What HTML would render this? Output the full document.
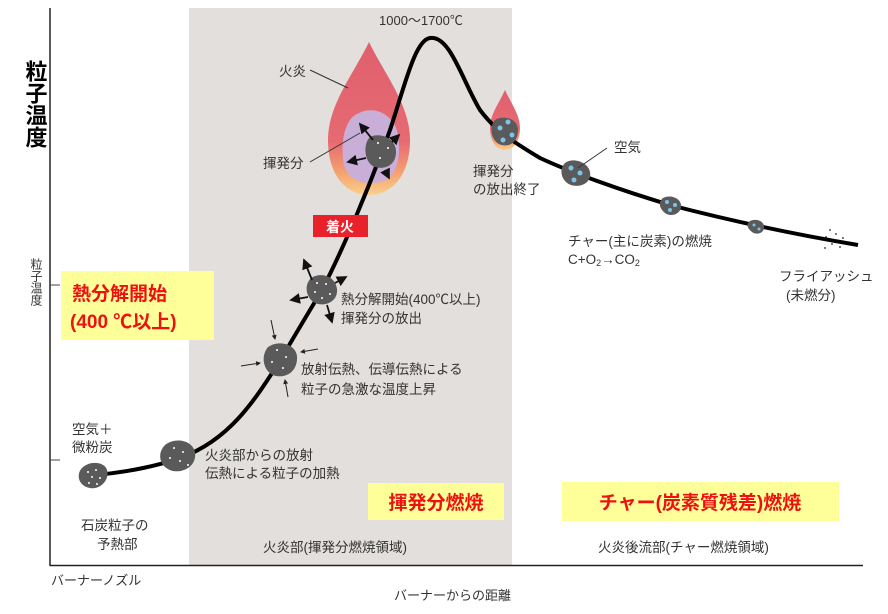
<!DOCTYPE html>
<html><head><meta charset="utf-8"><style>
body{margin:0;background:#fff;width:888px;height:609px;overflow:hidden}
svg text{font-family:"Liberation Sans","Noto Sans CJK JP",sans-serif}
</style></head><body>
<svg width="888" height="609" viewBox="0 0 888 609" xmlns="http://www.w3.org/2000/svg">
<defs>
<linearGradient id="fl" x1="0" y1="0" x2="0" y2="1">
<stop offset="0" stop-color="#e0606e"/><stop offset="0.65" stop-color="#e66a72"/><stop offset="0.85" stop-color="#f4a070"/><stop offset="1" stop-color="#fbd08a"/></linearGradient>
<marker id="ar" markerWidth="6" markerHeight="6" refX="5" refY="3" orient="auto"><path d="M0,0L6,3L0,6z" fill="#111"/></marker>
<marker id="as" markerWidth="5" markerHeight="5" refX="4" refY="2.5" orient="auto"><path d="M0,0L5,2.5L0,5z" fill="#222"/></marker>
</defs>
<rect x="189" y="8" width="323" height="557" fill="#e2dfdc"/>
<line x1="50" y1="8" x2="50" y2="566" stroke="#222" stroke-width="1.5"/>
<line x1="50" y1="565.5" x2="863" y2="565.5" stroke="#222" stroke-width="1.5"/>
<line x1="50" y1="285" x2="60" y2="285" stroke="#444"/>
<line x1="50" y1="460" x2="60" y2="460" stroke="#444"/>
<!-- flames -->
<path d="M369,42 C385,75 410,105 410,140 C410,175 392,195 369,195 C346,195 328,175 328,140 C328,105 353,75 369,42Z" fill="url(#fl)"/>
<path d="M359,113 C375,105 395,115 398,135 C402,160 395,180 380,182 C360,186 345,178 343,160 C341,140 345,118 359,113Z" fill="#c9aed8"/>
<path d="M505,90 C512,105 520,115 520,128 C520,142 513,150 505,150 C497,150 490,142 490,128 C490,115 498,105 505,90Z" fill="url(#fl)"/>
<!-- curve -->
<path d="M95,475 C130,472 160,465 180,458 C230,440 255,400 281,359 C295,335 310,310 322,290 C345,245 370,185 390,130 C405,85 415,40 430,38 C450,35 462,80 480,110 C495,130 510,140 540,158 C570,172 620,190 670,205 C720,218 780,232 858,245" fill="none" stroke="#000" stroke-width="4"/>
<!-- particles -->
<g fill="#5a5a5a">
<path d="M82,468 C90,460 105,462 107,470 C110,480 100,490 90,488 C78,486 76,474 82,468Z"/>
<path d="M165,445 C175,437 192,440 195,452 C197,465 185,473 173,471 C160,468 156,454 165,445Z"/>
<path d="M268,347 C278,340 295,343 297,356 C298,370 288,378 276,376 C265,374 259,358 268,347Z"/>
<path d="M311,278 C320,272 335,275 337,289 C338,300 328,306 318,304 C308,302 302,287 311,278Z"/>
<path d="M370,137 C380,132 396,138 396,152 C396,165 385,170 375,167 C365,164 362,145 370,137Z"/>
<path d="M495,120 C503,115 518,118 518,130 C518,142 510,147 502,145 C492,143 488,128 495,120Z"/>
<path d="M565,163 C573,157 588,162 590,172 C592,183 580,188 571,185 C562,182 558,170 565,163Z"/>
<path d="M663,198 C670,194 682,198 681,207 C680,215 670,217 665,213 C659,208 658,202 663,198Z"/>
<path d="M750,221 C756,218 765,221 764,228 C763,234 756,235 752,232 C747,228 746,224 750,221Z"/>
</g>
<g fill="#fff">
<circle cx="88" cy="472" r="1"/><circle cx="96" cy="470" r="1"/><circle cx="92" cy="477" r="1"/><circle cx="100" cy="478" r="1"/><circle cx="89" cy="483" r="1"/><circle cx="97" cy="484" r="1"/>
<circle cx="174" cy="448" r="1"/><circle cx="183" cy="452" r="1"/><circle cx="170" cy="458" r="1"/><circle cx="180" cy="461" r="1"/><circle cx="188" cy="465" r="1"/>
<circle cx="277" cy="350" r="1"/><circle cx="286" cy="357" r="1"/><circle cx="272" cy="362" r="1"/><circle cx="283" cy="368" r="1"/>
<circle cx="317" cy="283" r="1"/><circle cx="326" cy="284" r="1"/><circle cx="315" cy="292" r="1"/><circle cx="322" cy="298" r="1"/><circle cx="330" cy="294" r="1"/>
<circle cx="378" cy="143" r="1"/><circle cx="388" cy="148" r="1"/><circle cx="380" cy="158" r="1"/>
</g>
<g fill="#7cc4ec">
<circle cx="500" cy="128" r="2.5"/><circle cx="508" cy="122" r="2.5"/><circle cx="512" cy="135" r="2.5"/><circle cx="503" cy="140" r="2.5"/>
<circle cx="571" cy="168" r="2.5"/><circle cx="580" cy="173" r="2.5"/><circle cx="574" cy="180" r="2.5"/>
<circle cx="667" cy="202" r="2"/><circle cx="675" cy="205" r="2"/><circle cx="670" cy="210" r="2"/>
<circle cx="754" cy="225" r="1.5"/><circle cx="759" cy="229" r="1.5"/>
</g>
<!-- fly ash dots -->
<g fill="#222"><circle cx="830" cy="230" r="0.9"/><circle cx="836" cy="234" r="0.9"/><circle cx="826" cy="237" r="0.9"/><circle cx="843" cy="238" r="0.9"/><circle cx="832" cy="244" r="0.9"/><circle cx="825" cy="248" r="0.9"/><circle cx="840" cy="247" r="0.9"/></g>
<!-- arrows -->
<g stroke="#111" stroke-width="1.8" fill="none" marker-end="url(#ar)">
<line x1="373" y1="140" x2="360" y2="124"/><line x1="392" y1="142" x2="399" y2="135"/><line x1="366" y1="158" x2="348" y2="162"/><line x1="385" y1="170" x2="389" y2="178"/>
<line x1="312" y1="280" x2="304" y2="260"/><line x1="335" y1="283" x2="346" y2="277"/><line x1="308" y1="297" x2="291" y2="300"/><line x1="327" y1="305" x2="332" y2="322"/>
</g>
<g stroke="#222" stroke-width="1" fill="none" marker-end="url(#as)">
<line x1="271" y1="320" x2="275" y2="339"/><line x1="318" y1="349" x2="301" y2="352"/><line x1="241" y1="366" x2="260" y2="363"/><line x1="288" y1="397" x2="285" y2="380"/>
</g>
<line x1="310" y1="70" x2="348" y2="88" stroke="#333"/>
<line x1="310" y1="162" x2="360" y2="133" stroke="#333"/>
<line x1="607" y1="148" x2="578" y2="168" stroke="#333"/>
<!-- labels -->
<g fill="#333" font-size="13.5">
<text x="379" y="25" font-size="13">1000～1700℃</text>
<text x="279" y="76">火炎</text>
<text x="263" y="168">揮発分</text>
<text x="473" y="176">揮発分</text>
<text x="473" y="194">の放出終了</text>
<text x="614" y="152">空気</text>
<text x="568" y="246">チャー(主に炭素)の燃焼</text>
<text x="568" y="264">C+O<tspan font-size="9" dy="2">2</tspan><tspan dy="-2">→CO</tspan><tspan font-size="9" dy="2">2</tspan></text>
<text x="779" y="281">フライアッシュ</text>
<text x="786" y="300">(未燃分)</text>
<text x="341" y="304">熱分解開始(400℃以上)</text>
<text x="341" y="323">揮発分の放出</text>
<text x="301" y="374">放射伝熱、伝導伝熱による</text>
<text x="301" y="394">粒子の急激な温度上昇</text>
<text x="72" y="434">空気＋</text>
<text x="72" y="452">微粉炭</text>
<text x="205" y="460">火炎部からの放射</text>
<text x="205" y="478">伝熱による粒子の加熱</text>
<text x="81" y="530">石炭粒子の</text>
<text x="97" y="549">予熱部</text>
<text x="263" y="552">火炎部(揮発分燃焼領域)</text>
<text x="598" y="552">火炎後流部(チャー燃焼領域)</text>
<text x="51" y="585" font-size="13">バーナーノズル</text>
<text x="394" y="600" font-size="13">バーナーからの距離</text>
</g>
<text x="35" y="60" font-size="22" font-weight="bold" fill="#000" writing-mode="tb" style="writing-mode:vertical-rl">粒子温度</text>
<text x="36" y="258" font-size="12" fill="#333" style="writing-mode:vertical-rl">粒子温度</text>
<rect x="313" y="215" width="55" height="22" fill="#e8212a"/>
<text x="340" y="232" font-size="14" font-weight="bold" fill="#fff" text-anchor="middle">着火</text>
<rect x="61" y="271" width="153" height="69" fill="#ffff99"/>
<text x="72" y="300" font-size="19" font-weight="bold" fill="#ee1111">熱分解開始</text>
<text x="70" y="328" font-size="19" font-weight="bold" fill="#ee1111">(400 ℃以上)</text>
<rect x="368" y="483" width="136" height="37" fill="#ffff99"/>
<text x="436" y="509" font-size="19" font-weight="bold" fill="#ee1111" text-anchor="middle">揮発分燃焼</text>
<rect x="562" y="482" width="277" height="39" fill="#ffff99"/>
<text x="700" y="509" font-size="19" font-weight="bold" fill="#ee1111" text-anchor="middle">チャー(炭素質残差)燃焼</text>
</svg>
</body></html>
